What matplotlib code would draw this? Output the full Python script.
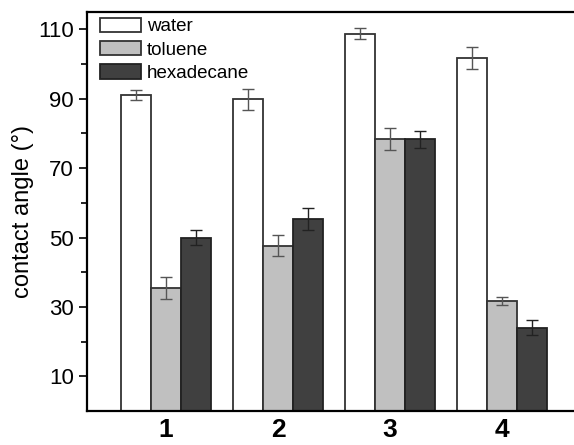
import numpy as np
import matplotlib.pyplot as plt
from matplotlib.ticker import FixedLocator

plt.rcParams['font.family'] = ['Liberation Sans', 'DejaVu Sans']

# contact angle data (degrees), samples 1-4
samples = ['1', '2', '3', '4']
water = [91.0, 89.8, 108.8, 101.7]
water_err = [1.5, 3.0, 1.5, 3.1]
toluene = [35.5, 47.7, 78.5, 31.7]
toluene_err = [3.1, 2.9, 3.2, 1.1]
hexadecane = [50.0, 55.3, 78.3, 24.0]
hexadecane_err = [2.1, 3.2, 2.5, 2.2]

x = np.arange(1, len(samples) + 1)
w = 0.268

fig = plt.figure(figsize=(5.74, 4.45), dpi=100)
ax = fig.add_axes([0.1516, 0.0764, 0.8484, 0.8966])

err_kw = dict(ecolor='#555555', elinewidth=1.0, capsize=4, capthick=1.0)
ax.bar(x - w, water, w, yerr=water_err, color='white', edgecolor='#333333',
       linewidth=1.3, label='water', error_kw=err_kw)
ax.bar(x, toluene, w, yerr=toluene_err, color='#c0c0c0', edgecolor='#333333',
       linewidth=1.3, label='toluene', error_kw=err_kw)
ax.bar(x + w, hexadecane, w, yerr=hexadecane_err, color='#404040', edgecolor='#222222',
       linewidth=1.3, label='hexadecane', error_kw=dict(err_kw, ecolor='#222222'))

ax.set_xlim(0.295, 4.643)
ax.set_ylim(0, 115)
ax.set_xticks(x)
ax.set_xticklabels(samples, fontsize=19, fontweight='bold')
ax.tick_params(axis='x', length=0, pad=5)
ax.set_yticks([10, 30, 50, 70, 90, 110])
ax.yaxis.set_minor_locator(FixedLocator([20, 40, 60, 80, 100]))
ax.tick_params(axis='y', which='major', labelsize=16, length=6, width=1.2, direction='out')
ax.tick_params(axis='y', which='minor', length=4, width=1.2, direction='out')
ax.set_ylabel('contact angle (°)', fontsize=17, labelpad=3)

for s in ['left', 'bottom', 'top']:
    ax.spines[s].set_linewidth(1.6)
ax.spines['right'].set_visible(False)

ax.legend(loc='upper left', bbox_to_anchor=(0.015, 1.0), frameon=False, fontsize=13.5,
          handlelength=2.2, handleheight=0.8, handletextpad=0.3, labelspacing=0.3,
          borderaxespad=0.1, borderpad=0.2)

fig.savefig('out.png', dpi=100)
